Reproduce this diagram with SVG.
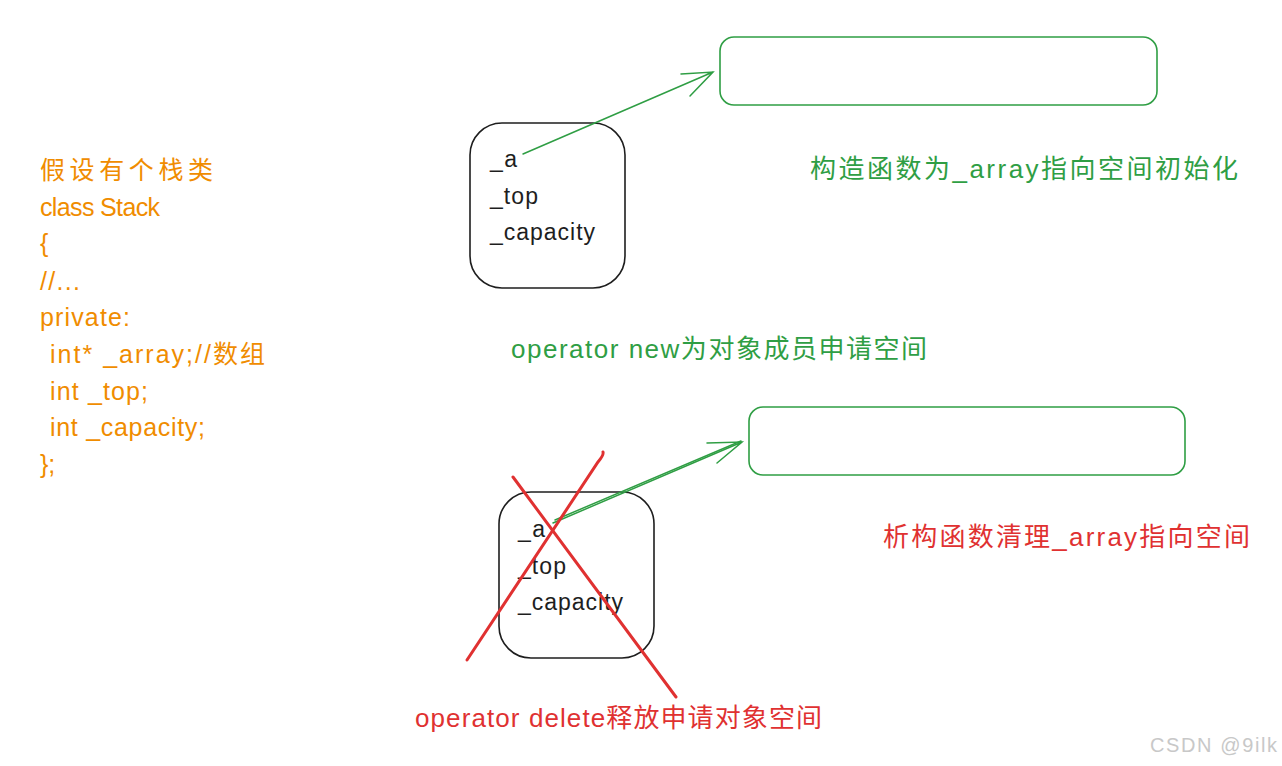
<svg xmlns="http://www.w3.org/2000/svg" width="1282" height="766" viewBox="0 0 1282 766">
<defs>
<style>
text{font-family:"Liberation Sans","Noto Sans CJK SC",sans-serif;}
.or{fill:#f08c00;font-size:25px;}
.gr{fill:#2f9e44;font-size:26px;}
.rd{fill:#e03131;font-size:26px;}
.bk{fill:#1e1e1e;font-size:23px;}
.obj{fill:none;stroke:#1e1e1e;stroke-width:1.6;}
.mem{fill:none;stroke:#2f9e44;stroke-width:1.6;}
.arr{fill:none;stroke:#2f9e44;stroke-width:1.5;stroke-linecap:round;}
.cross{fill:none;stroke:#e03131;stroke-width:3;stroke-linecap:round;}
</style>
</defs>
<rect width="1282" height="766" fill="#ffffff"/>

<g id="class-code">
<text class="or" x="40" y="179" textLength="173" lengthAdjust="spacing">假设有个栈类</text>
<text class="or" x="40" y="216" textLength="120" lengthAdjust="spacing">class Stack</text>
<text class="or" x="40" y="252">{</text>
<text class="or" x="40" y="290" textLength="40" lengthAdjust="spacing">//...</text>
<text class="or" x="40" y="326" textLength="90" lengthAdjust="spacing">private:</text>
<text class="or" x="50" y="363" textLength="215" lengthAdjust="spacing">int* _array;//数组</text>
<text class="or" x="50" y="400" textLength="98" lengthAdjust="spacing">int _top;</text>
<text class="or" x="50" y="436" textLength="155" lengthAdjust="spacing">int _capacity;</text>
<text class="or" x="40" y="473">};</text>
</g>

<g id="obj-top">
<rect class="obj" x="470" y="123" width="155" height="165" rx="32"/>
<text class="bk" x="490" y="167" textLength="27" lengthAdjust="spacing">_a</text>
<text class="bk" x="490" y="204" textLength="48" lengthAdjust="spacing">_top</text>
<text class="bk" x="490" y="240" textLength="105" lengthAdjust="spacing">_capacity</text>
</g>

<g id="mem-top">
<rect class="mem" x="720" y="37" width="437" height="68" rx="14"/>
</g>

<g id="label-ctor">
<text class="gr" x="810" y="178" textLength="428" lengthAdjust="spacing">构造函数为_array指向空间初始化</text>
</g>

<g id="label-new">
<text class="gr" x="511" y="358" textLength="416" lengthAdjust="spacing">operator new为对象成员申请空间</text>
</g>

<g id="obj-bottom">
<rect class="obj" x="499" y="492" width="155" height="166" rx="32"/>
<text class="bk" x="518" y="537" textLength="27" lengthAdjust="spacing">_a</text>
<text class="bk" x="518" y="574" textLength="48" lengthAdjust="spacing">_top</text>
<text class="bk" x="518" y="610" textLength="105" lengthAdjust="spacing">_capacity</text>
</g>

<g id="mem-bottom">
<rect class="mem" x="749" y="407" width="436" height="68" rx="14"/>
</g>

<g id="label-dtor">
<text class="rd" x="883" y="546" textLength="367" lengthAdjust="spacing">析构函数清理_array指向空间</text>
</g>

<g id="label-delete">
<text class="rd" x="415" y="727" textLength="407" lengthAdjust="spacing">operator delete释放申请对象空间</text>
</g>

<g id="connectors">
<path class="arr" d="M523,154 L713,72 M681,74 L713,72 L690,96"/>
<path class="arr" d="M553,523 L742,442 M707,443 L742,442 L717,463"/>
<path class="arr" d="M555,520 L741,441" stroke-width="0.8"/>
</g>

<g id="cross">
<path class="cross" d="M513,477 L676,697"/>
<path class="cross" d="M467,660 L598,462 Q604,455 603,452"/>
</g>

<g id="watermark">
<text x="1150" y="752" font-size="20" fill="#c8c8c8" textLength="127" lengthAdjust="spacing">CSDN @9ilk</text>
</g>
</svg>
